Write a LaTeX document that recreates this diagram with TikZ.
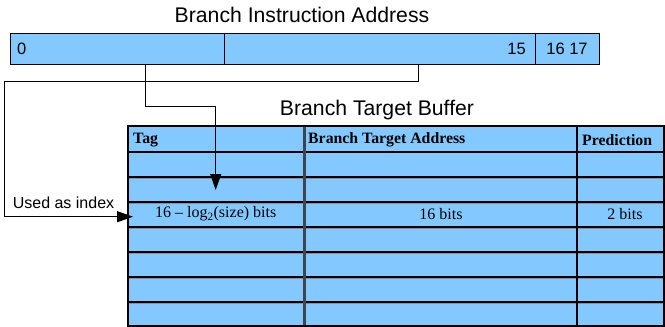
\documentclass[tikz,border=0pt]{standalone}
\usepackage{fontspec}
\setmainfont{Liberation Serif}
\setsansfont{Liberation Sans}
\usetikzlibrary{arrows.meta}
\definecolor{cellblue}{HTML}{83C9FF}
\definecolor{rowgray}{HTML}{8A9099}
\definecolor{coldark}{HTML}{3C4652}
\tikzset{
  barcell/.style={draw=black, line width=1pt, fill=cellblue, inner sep=0pt, minimum height=31pt},
  title/.style={font=\sffamily\fontsize{21.2}{25}\selectfont, inner sep=0pt},
  barlabel/.style={font=\sffamily\fontsize{16.5}{19}\selectfont, inner sep=0pt},
  idxlabel/.style={font=\sffamily\fontsize{16}{19}\selectfont, inner sep=0pt},
  tablelabel/.style={font=\rmfamily\fontsize{16}{19}\selectfont, inner sep=0pt},
  headlabel/.style={font=\rmfamily\bfseries\fontsize{15.8}{19}\selectfont, inner sep=0pt},
  conn/.style={draw=black, line width=1pt},
  arrowtip/.style={-{Triangle[length=16pt,width=11pt,fill=black]}}
}
\begin{document}
\begin{tikzpicture}[x=1pt,y=-1pt]
\useasboundingbox (0,0) rectangle (665,327);
% titles
\node[title] (t1) at (302,15) {Branch Instruction Address};
\node[title] (t2) at (377,110) {Branch Target Buffer};
% address bar
\node[barcell, minimum width=214pt] (cA) at (117,48.5) {};
\node[barcell, minimum width=311pt] (cB) at (379.5,48.5) {};
\node[barcell, minimum width=64pt] (cC) at (567,48.5) {};
\node[barlabel, anchor=west] (l0) at (17,48.5) {0};
\node[barlabel, anchor=east] (l15) at (526,48.5) {15};
\node[barlabel] (l1617) at (cC) {16 17};
% table
\fill[cellblue] (128,126) rectangle (664,326);
\foreach \y in {177,202,227,252,277,302}{
  \draw[black, line width=1.2pt] (128,\y) -- (664,\y);
  \draw[rowgray, line width=1pt] (128,\y+1.1) -- (664,\y+1.1);
}
\draw[black, line width=2pt] (128,151.5) -- (664,151.5);
\draw[coldark, line width=3pt] (304,126) -- (304,326);
\draw[black, line width=1.4pt] (577,126) -- (577,326);
\draw[black, line width=1.3pt] (128,126) rectangle (664,326);
% header labels
\node[headlabel, anchor=west] (hTag) at (133,140) {Tag};
\node[headlabel, anchor=west] (hBTA) at (308,140) {Branch Target Address};
\node[headlabel, anchor=west] (hPred) at (582,140) {Prediction};
% data labels
\node[tablelabel] (dTag) at (215.7,214) {16 -- log\textsubscript{2}(size) bits};
\node[tablelabel] (dBTA) at (441,214) {16 bits};
\node[tablelabel] (dPred) at (625,214) {2 bits};
\node[idxlabel] (uai) at (63.5,203) {Used as index};
% connectors
\coordinate (sA) at (145.8,64);
\coordinate (sB) at (418,64);
\coordinate (tRow) at (215.7,190);
\coordinate (tIdx) at (133,216.7);
\draw[conn, arrowtip] (sA) |- (215.7,106.7) -- (tRow);
\draw[conn, arrowtip] (sB) |- (4,81) |- (tIdx);
\end{tikzpicture}
\end{document}
